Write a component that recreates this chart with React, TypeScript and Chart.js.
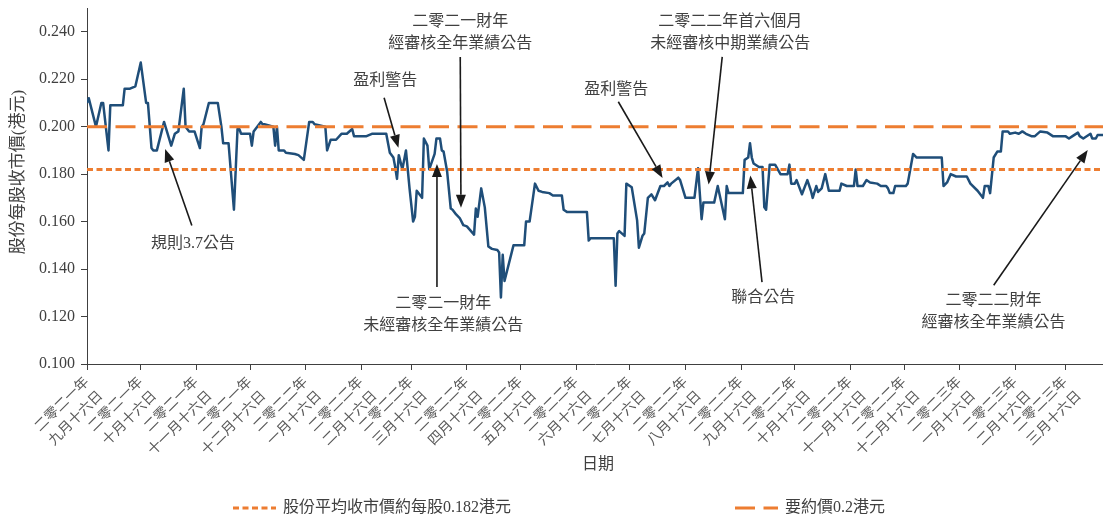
import React, { useEffect, useRef } from 'react';
import { Chart, registerables } from 'chart.js';

Chart.register(...registerables);

// Days counted from 16 Sep 2021 (二零二一年九月十六日)
const tradingDay = [
  0, 1, 5, 8, 9, 12, 13, 20, 21, 24, 27, 30, 33, 34, 36, 37, 39, 43, 47, 49,
  51, 54, 55, 57, 60, 63, 64, 65, 68, 73, 75, 76, 79, 82, 84, 85, 86, 91, 92, 93,
  97, 98, 99, 104, 105, 106, 107, 110, 111, 116, 118, 121, 124, 126, 127, 130, 133, 134, 136, 139,
  142, 145, 148, 149, 156, 159, 167, 169, 171, 172, 173, 174, 176, 178, 180, 182, 183, 184, 187, 188,
  190, 191, 194, 195, 197, 198, 199, 201, 203, 204, 206, 208, 210, 212, 216, 217, 218, 220, 222, 224,
  226, 229, 230, 231, 232, 233, 238, 244, 245, 247, 250, 252, 254, 258, 260, 265, 266, 268, 279, 280,
  281, 294, 295, 296, 297, 300, 301, 304, 307, 308, 310, 311, 313, 315, 317, 320, 322, 324, 325, 326,
  330, 331, 334, 339, 341, 343, 344, 350, 352, 356, 357, 358, 366, 367, 369, 370, 371, 372, 375, 377,
  378, 379, 381, 384, 387, 391, 392, 393, 395, 396, 399, 402, 404, 405, 407, 408, 410, 412, 414, 420,
  421, 424, 428, 429, 430, 433, 435, 437, 441, 443, 446, 447, 448, 450, 451, 457, 458, 461, 463, 477,
  478, 480, 482, 485, 491, 493, 497, 500, 501, 503, 504, 506, 508, 510, 511, 514, 515, 518, 520, 522,
  524, 527, 529, 532, 536, 539, 542, 546, 548, 550, 553, 554, 556, 560, 561, 563, 564, 567,
];

const closePrice = [
  0.210, 0.212, 0.200, 0.210, 0.210, 0.190, 0.209, 0.209, 0.216, 0.216, 0.217, 0.227, 0.210, 0.210, 0.191, 0.190, 0.190, 0.202, 0.192, 0.197,
  0.198, 0.216, 0.200, 0.198, 0.198, 0.191, 0.200, 0.201, 0.210, 0.210, 0.200, 0.193, 0.193, 0.165, 0.199, 0.199, 0.197, 0.197, 0.192, 0.198,
  0.202, 0.201, 0.201, 0.200, 0.192, 0.200, 0.190, 0.190, 0.189, 0.1885, 0.188, 0.186, 0.202, 0.202, 0.201, 0.2005, 0.200, 0.190, 0.1945, 0.1945,
  0.197, 0.197, 0.199, 0.196, 0.196, 0.197, 0.197, 0.189, 0.187, 0.183, 0.178, 0.188, 0.182, 0.190, 0.174, 0.160, 0.162, 0.173, 0.170, 0.195,
  0.192, 0.182, 0.1885, 0.195, 0.195, 0.190, 0.1895, 0.181, 0.1655, 0.165, 0.163, 0.1615, 0.1585, 0.158, 0.1545, 0.1655, 0.162, 0.174, 0.166, 0.1495,
  0.1485, 0.148, 0.147, 0.128, 0.146, 0.135, 0.150, 0.150, 0.160, 0.160, 0.176, 0.173, 0.1725, 0.172, 0.171, 0.171, 0.165, 0.164, 0.164, 0.152,
  0.153, 0.153, 0.133, 0.155, 0.156, 0.154, 0.176, 0.1745, 0.1605, 0.149, 0.154, 0.155, 0.170, 0.1715, 0.169, 0.175, 0.175, 0.1765, 0.175, 0.176,
  0.1785, 0.1775, 0.170, 0.170, 0.1825, 0.161, 0.168, 0.168, 0.175, 0.161, 0.175, 0.172, 0.172, 0.186, 0.187, 0.193, 0.187, 0.1845, 0.183, 0.183,
  0.166, 0.165, 0.184, 0.184, 0.180, 0.180, 0.184, 0.176, 0.176, 0.1775, 0.1715, 0.1775, 0.173, 0.170, 0.175, 0.1725, 0.174, 0.180, 0.173, 0.173,
  0.176, 0.175, 0.175, 0.182, 0.175, 0.175, 0.1775, 0.1765, 0.176, 0.175, 0.175, 0.174, 0.172, 0.172, 0.175, 0.175, 0.176, 0.1885, 0.187, 0.187,
  0.175, 0.1765, 0.180, 0.179, 0.179, 0.176, 0.173, 0.170, 0.175, 0.175, 0.172, 0.187, 0.1895, 0.1895, 0.198, 0.198, 0.197, 0.1975, 0.197, 0.198,
  0.197, 0.196, 0.196, 0.198, 0.1975, 0.196, 0.196, 0.196, 0.195, 0.196, 0.1975, 0.196, 0.195, 0.197, 0.195, 0.195, 0.1965, 0.1965,
];

const meanPrice = 0.182;
const offerPrice = 0.2;
const dayMax = 567;

const tickDay = [0, 30, 61, 91, 122, 153, 181, 212, 242, 273, 303, 334, 365, 395, 426, 456, 487, 518, 546];
const tickYear = [
  '二零二一年', '二零二一年', '二零二一年', '二零二一年',
  '二零二二年', '二零二二年', '二零二二年', '二零二二年', '二零二二年', '二零二二年',
  '二零二二年', '二零二二年', '二零二二年', '二零二二年', '二零二二年', '二零二二年',
  '二零二三年', '二零二三年', '二零二三年',
];
const tickMonth = [
  '九月十六日', '十月十六日', '十一月十六日', '十二月十六日',
  '一月十六日', '二月十六日', '三月十六日', '四月十六日', '五月十六日', '六月十六日',
  '七月十六日', '八月十六日', '九月十六日', '十月十六日', '十一月十六日', '十二月十六日',
  '一月十六日', '二月十六日', '三月十六日',
];
const yTickValues = [0.10, 0.12, 0.14, 0.16, 0.18, 0.20, 0.22, 0.24];

const yTitle = '股份每股收市價(港元)';
const xTitle = '日期';
const legendLabels = ['股份平均收市價約每股0.182港元', '要約價0.2港元'];

// annotation: text anchor (day, price), arrow tail and head (day, price)
const noteLines = [
  ['規則3.7公告'],
  ['盈利警告'],
  ['二零二一財年', '經審核全年業績公告'],
  ['二零二一財年', '未經審核全年業績公告'],
  ['盈利警告'],
  ['二零二二年首六個月', '未經審核中期業績公告'],
  ['聯合公告'],
  ['二零二二財年', '經審核全年業績公告'],
];
const noteText = [
  [59.2, 0.1508], [166.4, 0.2193], [208.3, 0.2441], [198.8, 0.1252],
  [295.4, 0.2155], [359.0, 0.2441], [377.4, 0.1277], [505.9, 0.1265],
];
const noteTail = [
  [58.5, 0.1584], [165.8, 0.2122], [208.3, 0.2294], [195.3, 0.1324],
  [296.5, 0.2105], [354.5, 0.2294], [376.7, 0.1345], [506.0, 0.1332],
];
const noteHead = [
  [43.6, 0.1906], [173.8, 0.1911], [208.7, 0.1658], [195.3, 0.1843],
  [321.2, 0.1784], [346.9, 0.1756], [370.2, 0.1794], [558.5, 0.1902],
];

const FONT = '"Liberation Serif", "Noto Sans CJK TC", serif';
const TEXT = '#404040';
const AXIS = '#404040';
const BLUE = '#1f4e79';
const ORANGE = '#ed7d31';
const SHORT_DASH = [6, 3.5];
const LONG_DASH = [20, 8.5];

const overlay = {
  id: 'overlay',
  afterDraw(chart: any) {
    const { ctx, scales } = chart;
    const x = scales.x;
    const y = scales.y;
    ctx.save();

    // axis titles
    ctx.fillStyle = TEXT;
    ctx.textAlign = 'center';
    ctx.textBaseline = 'middle';
    ctx.font = `17px ${FONT}`;
    ctx.save();
    ctx.translate(19, 172);
    ctx.rotate(-Math.PI / 2);
    ctx.fillText(yTitle, 0, 0);
    ctx.restore();
    ctx.font = `16px ${FONT}`;
    ctx.fillText(xTitle, 598, 465);

    // annotations
    noteLines.forEach((lines, i) => {
      const hx = x.getPixelForValue(noteHead[i][0]);
      const hy = y.getPixelForValue(noteHead[i][1]);
      const tx = x.getPixelForValue(noteTail[i][0]);
      const ty = y.getPixelForValue(noteTail[i][1]);
      const ang = Math.atan2(hy - ty, hx - tx);
      const L = 13;
      const W = 5;
      const bx = hx - L * Math.cos(ang);
      const by = hy - L * Math.sin(ang);
      ctx.strokeStyle = '#1a1a1a';
      ctx.fillStyle = '#1a1a1a';
      ctx.lineWidth = 1.6;
      ctx.setLineDash([]);
      ctx.beginPath();
      ctx.moveTo(tx, ty);
      ctx.lineTo(bx, by);
      ctx.stroke();
      ctx.beginPath();
      ctx.moveTo(hx, hy);
      ctx.lineTo(bx - W * Math.sin(ang), by + W * Math.cos(ang));
      ctx.lineTo(bx + W * Math.sin(ang), by - W * Math.cos(ang));
      ctx.closePath();
      ctx.fill();

      const px = x.getPixelForValue(noteText[i][0]);
      const py = y.getPixelForValue(noteText[i][1]);
      ctx.fillStyle = TEXT;
      ctx.font = `16px ${FONT}`;
      ctx.textAlign = 'center';
      ctx.textBaseline = 'middle';
      lines.forEach((s, k) => ctx.fillText(s, px, py + k * 21.5));
    });

    // legend
    const ly = 508;
    ctx.lineWidth = 3;
    ctx.strokeStyle = ORANGE;
    ctx.setLineDash(SHORT_DASH);
    ctx.beginPath();
    ctx.moveTo(233, ly);
    ctx.lineTo(276, ly);
    ctx.stroke();
    ctx.setLineDash(LONG_DASH);
    ctx.beginPath();
    ctx.moveTo(735, ly);
    ctx.lineTo(778, ly);
    ctx.stroke();
    ctx.setLineDash([]);
    ctx.fillStyle = TEXT;
    ctx.font = `16px ${FONT}`;
    ctx.textAlign = 'left';
    ctx.textBaseline = 'middle';
    ctx.fillText(legendLabels[0], 283, ly);
    ctx.fillText(legendLabels[1], 785, ly);

    ctx.restore();
  },
};

export default function App() {
  const ref = useRef<HTMLCanvasElement | null>(null);

  useEffect(() => {
    if (!ref.current) return;
    const chart = new Chart(ref.current, {
      type: 'line',
      data: {
        datasets: [
          {
            label: legendLabels[0],
            data: [{ x: 0, y: meanPrice }, { x: dayMax, y: meanPrice }],
            borderColor: ORANGE,
            borderWidth: 3,
            borderDash: SHORT_DASH,
            pointRadius: 0,
          },
          {
            label: legendLabels[1],
            data: [{ x: 0, y: offerPrice }, { x: dayMax, y: offerPrice }],
            borderColor: ORANGE,
            borderWidth: 3,
            borderDash: LONG_DASH,
            pointRadius: 0,
          },
          {
            label: yTitle,
            data: tradingDay.map((d, i) => ({ x: d, y: closePrice[i] })),
            borderColor: BLUE,
            borderWidth: 2.5,
            pointRadius: 0,
            tension: 0,
            borderJoinStyle: 'round',
          },
        ],
      },
      options: {
        animation: false,
        responsive: false,
        devicePixelRatio: 1,
        layout: { padding: { top: 8, left: 0, right: 0, bottom: 0 } },
        plugins: { legend: { display: false }, tooltip: { enabled: false } },
        scales: {
          x: {
            type: 'linear',
            min: 0,
            max: dayMax,
            afterBuildTicks: (axis: any) => {
              axis.ticks = tickDay.map((v) => ({ value: v }));
            },
            afterFit: (axis: any) => {
              axis.height = 159;
              axis.paddingLeft = 0;
              axis.paddingRight = 0;
            },
            border: { color: AXIS, width: 1 },
            grid: { drawOnChartArea: false, drawTicks: true, tickLength: 6, color: AXIS },
            ticks: {
              autoSkip: false,
              maxRotation: 45,
              minRotation: 45,
              padding: 3,
              color: '#595959',
              font: { family: FONT, size: 14, lineHeight: 1.4 },
              callback: (_v: any, i: number) => [tickYear[i], tickMonth[i]],
            },
          },
          y: {
            type: 'linear',
            min: 0.1,
            max: 0.25,
            afterBuildTicks: (axis: any) => {
              axis.ticks = yTickValues.map((v) => ({ value: v }));
            },
            afterFit: (axis: any) => {
              axis.width = 87;
              axis.paddingTop = 0;
              axis.paddingBottom = 0;
            },
            border: { color: AXIS, width: 1 },
            grid: { drawOnChartArea: false, drawTicks: true, tickLength: 6, color: AXIS },
            ticks: {
              padding: 6,
              color: TEXT,
              font: { family: FONT, size: 16 },
              callback: (v: any) => Number(v).toFixed(3),
            },
          },
        },
      },
      plugins: [overlay],
    } as any);
    return () => chart.destroy();
  }, []);

  return (
    <div style={{ position: 'fixed', left: 0, top: 0, width: 1103, height: 523, background: '#fff' }}>
      <canvas ref={ref} width={1103} height={523} style={{ display: 'block', width: 1103, height: 523 }} />
    </div>
  );
}
